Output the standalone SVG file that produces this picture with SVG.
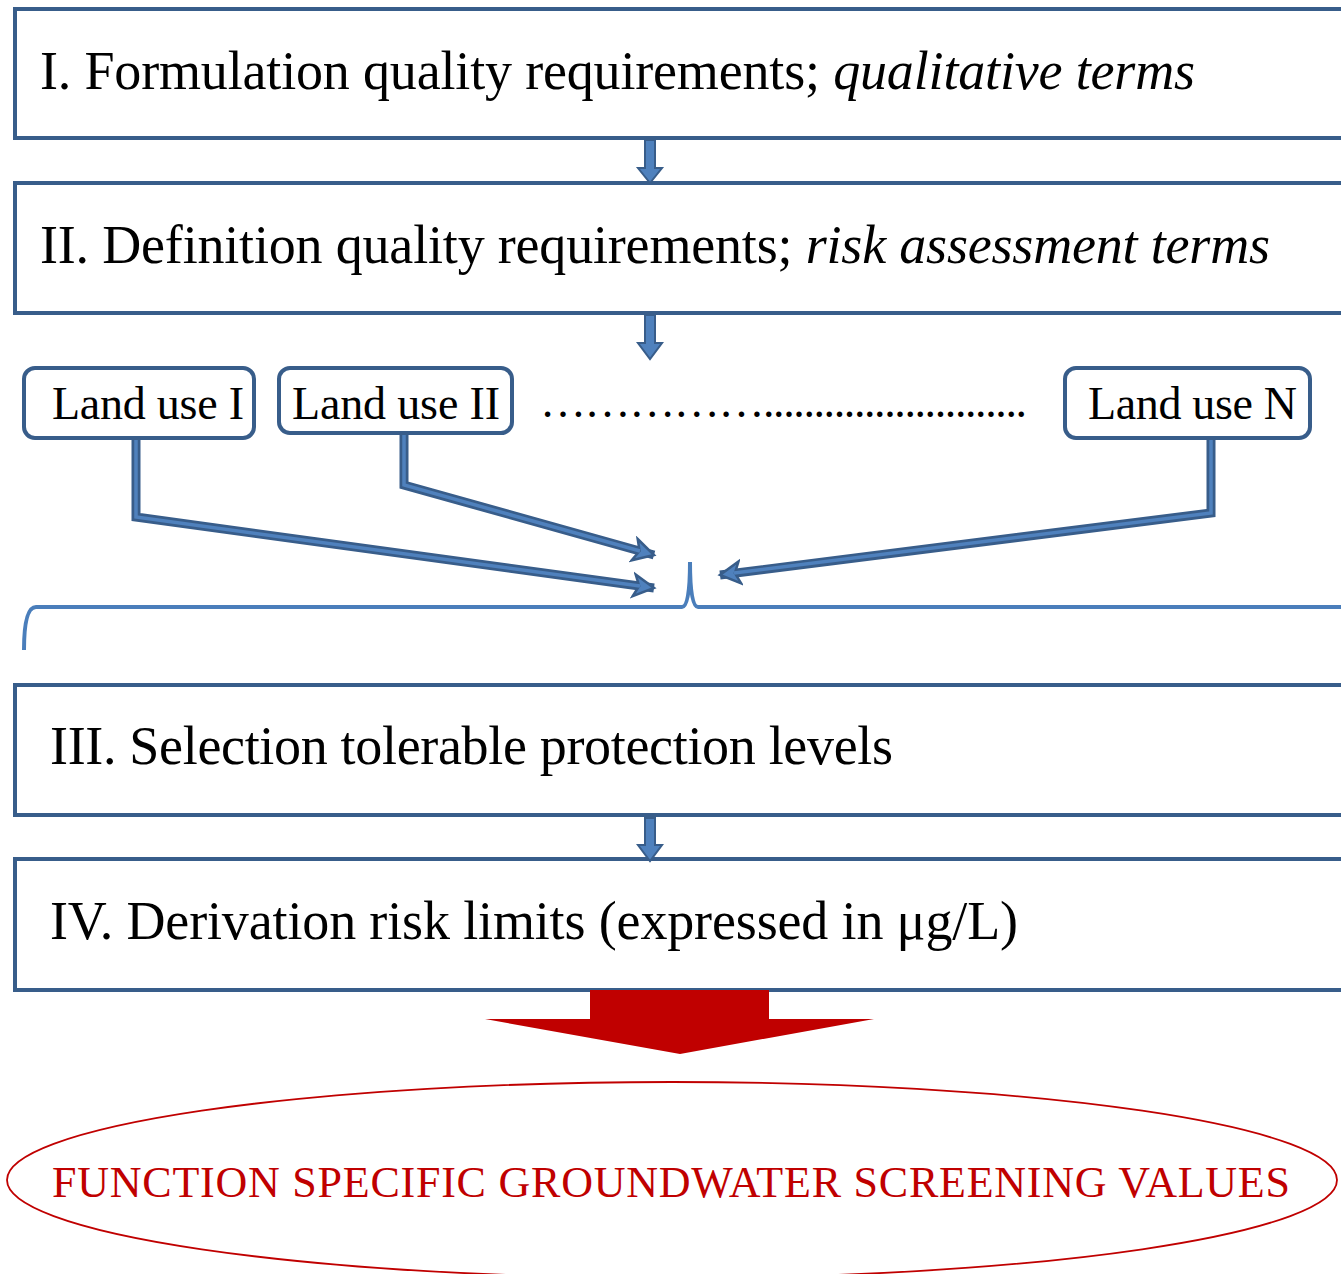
<svg xmlns="http://www.w3.org/2000/svg" width="1341" height="1274" viewBox="0 0 1341 1274">
<style>
.box{fill:#fff;stroke:#385D8A;stroke-width:4}
.lu{fill:#fff;stroke:#385D8A;stroke-width:4}
.t{font-family:"Liberation Serif","Times New Roman",serif;fill:#000}
.big{font-size:54px}
.mid{font-size:46px}
.blk{fill:#4F81BD;stroke:#385D8A;stroke-width:2}
.con{fill:none;stroke:#385D8A;stroke-width:9;stroke-linejoin:miter}
.conin{fill:none;stroke:#4F81BD;stroke-width:3.5}
.brace{fill:none;stroke:#4A7EBB;stroke-width:4}
</style>
<defs>
<marker id="ah" markerUnits="userSpaceOnUse" markerWidth="28" markerHeight="28" refX="22" refY="14" orient="auto" viewBox="0 0 28 28">
<path d="M2 3 L22 14 L2 25 L7 14 Z" fill="#4F81BD" stroke="#385D8A" stroke-width="2.5"/>
</marker>
</defs>
<rect width="1341" height="1274" fill="#fff"/>

<g id="step1">
<rect class="box" x="15" y="9" width="1340" height="129"/>
<text class="t big" x="40" y="89" textLength="1155">I. Formulation quality requirements; <tspan font-style="italic">qualitative terms</tspan></text>
</g>
<g id="step2">
<rect class="box" x="15" y="183" width="1340" height="130"/>
<text class="t big" x="40" y="263" textLength="1230">II. Definition quality requirements; <tspan font-style="italic">risk assessment terms</tspan></text>
</g>
<g id="landuse1">
<rect class="lu" x="24" y="368" width="230" height="70" rx="11"/>
<text class="t mid" x="52" y="419" textLength="192">Land use I</text>
</g>
<g id="landuse2">
<rect class="lu" x="279" y="368" width="233" height="65" rx="11"/>
<text class="t mid" x="292" y="419" textLength="208">Land use II</text>
</g>
<g id="dots">
<text class="t mid" x="540" y="417" textLength="487">……………..........................</text>
</g>
<g id="landuseN">
<rect class="lu" x="1065" y="368" width="245" height="70" rx="11"/>
<text class="t mid" x="1088" y="419" textLength="209">Land use N</text>
</g>
<g id="step3">
<rect class="box" x="15" y="685" width="1340" height="130"/>
<text class="t big" x="50" y="764" textLength="843">III. Selection tolerable protection levels</text>
</g>
<g id="step4">
<rect class="box" x="15" y="859" width="1340" height="131"/>
<text class="t big" x="50" y="939" textLength="968">IV. Derivation risk limits (expressed in μg/L)</text>
</g>
<g id="result">
<ellipse cx="672" cy="1180" rx="665" ry="98" fill="none" stroke="#C00000" stroke-width="1.8"/>
<text class="t" x="52" y="1197" font-size="44" style="fill:#C00000" textLength="1238">FUNCTION SPECIFIC GROUNDWATER SCREENING VALUES</text>
</g>

<g id="connectors">
<polygon class="blk" points="645,140 655,140 655,168 662,168 650,183 638,168 645,168"/>
<polygon class="blk" points="645,315 655,315 655,343 662,343 650,359 638,343 645,343"/>
<polygon class="blk" points="645,818 655,818 655,845 662,845 650,861 638,845 645,845"/>
<path class="con" d="M136 438 L136 517 L654 588" marker-end="url(#ah)"/>
<path class="conin" d="M136 440 L136 517 L640 586"/>
<path class="con" d="M404 433 L404 485 L654 555" marker-end="url(#ah)"/>
<path class="conin" d="M404 435 L404 485 L640 551"/>
<path class="con" d="M1211 438 L1211 513 L720 575" marker-end="url(#ah)"/>
<path class="conin" d="M1211 440 L1211 513 L734 573"/>
<path class="brace" d="M24 650 Q24 607 36 607 L682 607 Q690 607 690 562 Q690 607 698 607 L1345 607"/>
<polygon fill="#C00000" points="590,990 769,990 769,1019 874,1019 680,1054 485,1019 590,1019"/>
</g>
</svg>
